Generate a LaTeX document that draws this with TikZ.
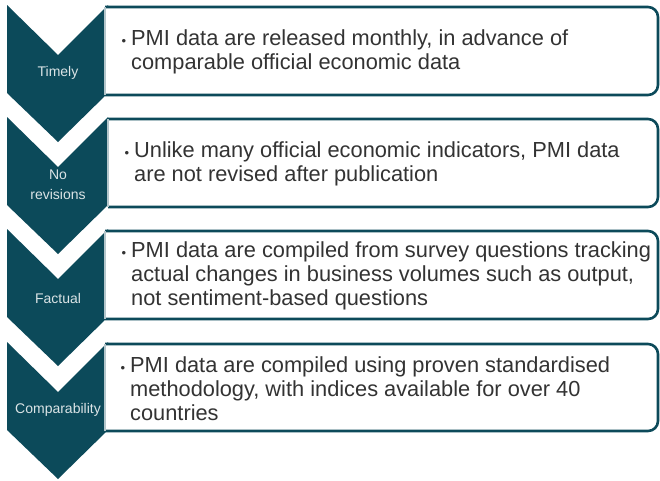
\documentclass[tikz,border=0pt]{standalone}
\usepackage{fontspec}
\setmainfont{Liberation Sans}
\usepackage{tikz}
\usepackage{xcolor}
\definecolor{pmiteal}{HTML}{0C4A5A}
\definecolor{pmiedge}{HTML}{B4C6CB}
\definecolor{pmitext}{HTML}{333333}
\newcommand{\pt}{\llap{\fontsize{13}{13}\selectfont\textbullet\hspace{5pt}}}

\begin{document}
\begin{tikzpicture}[x=1pt,y=-1pt,
  chev/.style={fill=pmiteal},
  tag/.style={text=white!85!pmiteal,font=\fontsize{14}{20}\selectfont,align=center},
  card/.style={fill=white,draw=pmiteal,line width=2.6pt,rounded corners=10pt},
  edge/.style={draw=pmiedge,line width=1.6pt},
  item/.style={anchor=west,text=pmitext,font=\fontsize{21.8}{24}\selectfont,align=left,inner sep=0pt}]
  \useasboundingbox (0,0) rectangle (660,480);

  \fill[chev] (7,5) -- ++(51,50) -- ++(50,-50) -- ++(0,88) -- ++(-50,49) -- ++(-51,-49) -- cycle;
  \node[tag] (ti) at (58,73) {Timely};
  \filldraw[card] (105,7) -- (658,7) -- (658,95) -- (105,95);
  \draw[edge] (105,7) -- (105,95);
  \node[item] (tt) at (131,52) {\pt PMI data are released monthly, in advance of\\
    comparable official economic data};

  \fill[chev] (7,117) -- ++(51,50) -- ++(50,-50) -- ++(0,88) -- ++(-50,49) -- ++(-51,-49) -- cycle;
  \node[tag] (nr) at (58,185) {No\\revisions};
  \filldraw[card] (108,119) -- (658,119) -- (658,207) -- (108,207);
  \draw[edge] (108,119) -- (108,207);
  \node[item] (nt) at (134,164) {\pt Unlike many official economic indicators, PMI data\\
    are not revised after publication};

  \fill[chev] (7,229) -- ++(51,50) -- ++(50,-50) -- ++(0,88) -- ++(-50,49) -- ++(-51,-49) -- cycle;
  \node[tag] (fa) at (58,298) {Factual};
  \filldraw[card] (105,231) -- (658,231) -- (658,319) -- (105,319);
  \draw[edge] (105,231) -- (105,319);
  \node[item] (ft) at (131,276) {\pt PMI data are compiled from survey questions tracking\\
    actual changes in business volumes such as output,\\
    not sentiment-based questions};

  \fill[chev] (7,342) -- ++(51,50) -- ++(50,-50) -- ++(0,88) -- ++(-50,49) -- ++(-51,-49) -- cycle;
  \node[tag] (co) at (58,410) {Comparability};
  \filldraw[card] (105,344) -- (658,344) -- (658,431) -- (105,431);
  \draw[edge] (105,344) -- (105,431);
  \node[item] (ct) at (130,389) {\pt PMI data are compiled using proven standardised\\
    methodology, with indices available for over 40\\
    countries};
\end{tikzpicture}
\end{document}
